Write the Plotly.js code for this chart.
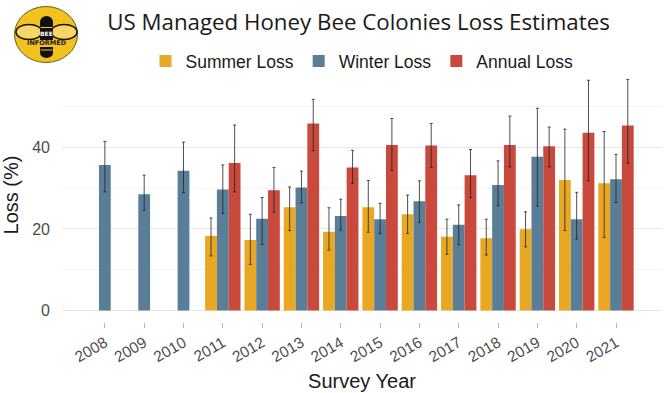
<!DOCTYPE html>
<html>
<head>
<meta charset="utf-8">
<script src="https://cdn.plot.ly/plotly-3.0.1.min.js"></script>
<style>html,body{margin:0;padding:0;background:#fff;}#chart{width:670px;height:393px;}</style>
</head>
<body>
<div id="chart"></div>
<script>
// ---- data ----
const years = ["2008","2009","2010","2011","2012","2013","2014","2015","2016","2017","2018","2019","2020","2021"];

const summerLoss = [null, null, null, 18.3, 17.3, 25.3, 19.3, 25.3, 23.6, 18.1, 17.7, 19.9, 32.0, 31.2];
const summerHi   = [null, null, null, 22.7, 23.6, 30.3, 25.2, 31.9, 28.3, 22.4, 22.4, 24.2, 44.5, 43.9];
const summerLo   = [null, null, null, 13.4, 11.3, 19.6, 14.8, 19.2, 18.9, 13.8, 13.6, 15.6, 19.6, 17.9];

const winterLoss = [35.7, 28.5, 34.3, 29.7, 22.5, 30.2, 23.2, 22.4, 26.8, 21.0, 30.8, 37.7, 22.4, 32.2];
const winterHi   = [41.5, 33.2, 41.3, 35.7, 27.7, 34.2, 27.3, 26.3, 31.8, 25.9, 36.7, 49.6, 29.0, 38.3];
const winterLo   = [29.1, 24.6, 28.9, 23.8, 16.2, 26.4, 19.7, 18.8, 21.6, 16.1, 25.7, 25.6, 17.5, 26.5];

const annualLoss = [null, null, null, 36.2, 29.5, 45.9, 35.1, 40.6, 40.5, 33.2, 40.6, 40.3, 43.6, 45.4];
const annualHi   = [null, null, null, 45.5, 35.1, 51.8, 39.3, 47.1, 45.9, 39.5, 47.7, 45.0, 56.5, 56.7];
const annualLo   = [null, null, null, 29.1, 24.1, 39.2, 31.2, 34.4, 35.1, 27.7, 35.2, 35.2, 31.8, 36.1];

const seriesNames = ["Summer Loss", "Winter Loss", "Annual Loss"];
const yTickVals = [0, 20, 40];

// ---- styling ----
const colors = ["#E9A824", "#5A7E98", "#C94A3C"];
const errColor = "rgba(35,35,35,0.8)";

function upper(v, hi) { return v.map((x, i) => x == null ? null : hi[i] - x); }
function lower(v, lo) { return v.map((x, i) => x == null ? null : x - lo[i]); }

const series = [[summerLoss, summerHi, summerLo], [winterLoss, winterHi, winterLo], [annualLoss, annualHi, annualLo]];
const traces = series.map((s, k) => ({
  type: "bar",
  name: seriesNames[k],
  x: years,
  y: s[0],
  marker: { color: colors[k], line: { width: 0 } },
  error_y: {
    type: "data", symmetric: false,
    array: upper(s[0], s[1]), arrayminus: lower(s[0], s[2]),
    color: errColor, thickness: 1, width: 1.5
  },
  hoverinfo: "x+y+name"
}));

// pixel -> paper coordinates helpers (plot area: left 62, right 662, top 68, bottom 322)
const L = 62, R = 8, T = 68, B = 71, W = 670, H = 393;
const PW = W - L - R, PH = H - T - B;
const px = v => (v - L) / PW;
const py = v => (H - B - v) / PH;

function ell(cx, cy, rx, ry, fill, line, lw) {
  return { type: "circle", xref: "paper", yref: "paper", layer: "above",
    x0: px(cx - rx), x1: px(cx + rx), y0: py(cy + ry), y1: py(cy - ry),
    fillcolor: fill, line: { color: line, width: lw } };
}
function rect(x0, y0, x1, y1, fill) {
  return { type: "rect", xref: "paper", yref: "paper", layer: "above",
    x0: px(x0), x1: px(x1), y0: py(y1), y1: py(y0),
    fillcolor: fill, line: { width: 0 } };
}
function seg(x0, y0, x1, y1, c, w) {
  return { type: "line", xref: "paper", yref: "paper", layer: "above",
    x0: px(x0), x1: px(x1), y0: py(y0), y1: py(y1), line: { color: c, width: w } };
}

const shapes = [
  ell(46, 34.5, 31.5, 28, "#F4C21F", "#6b5a1a", 1),
  ell(29, 32, 13, 7.5, "#F7D667", "#111", 1.5),
  ell(64, 32, 13, 7.5, "#F7D667", "#111", 1.5),
  ell(46.5, 22, 6.5, 6, "#111", "#111", 0),
  rect(40, 22, 53, 53, "#111"),
  ell(46.5, 53, 6.5, 5, "#111", "#111", 0),
  seg(40.5, 27.5, 52.5, 27.5, "#F4C21F", 1),
  rect(39, 40, 54, 47, "#F4C21F"),
  seg(40.5, 50, 52.5, 50, "#F4C21F", 1)
];

const annotations = [
  { text: "BEE", xref: "paper", yref: "paper", x: px(46.5), y: py(33), xanchor: "center", yanchor: "middle",
    showarrow: false, font: { family: "DejaVu Sans", size: 6, color: "#ffffff", weight: "bold" } },
  { text: "INFORMED", xref: "paper", yref: "paper", x: px(46.5), y: py(43.5), xanchor: "center", yanchor: "middle",
    showarrow: false, font: { family: "DejaVu Sans", size: 6.5, color: "#222", weight: "bold" } }
];

const layout = {
  width: W, height: H,
  margin: { l: L, r: R, t: T, b: B, pad: 0 },
  paper_bgcolor: "#ffffff", plot_bgcolor: "#ffffff",
  font: { family: "Liberation Sans, Arial, sans-serif", color: "#1a1a1a" },
  title: {
    text: "US Managed Honey Bee Colonies Loss Estimates",
    font: { family: "Open Sans, sans-serif", size: 22.3, color: "#1a1a1a" },
    x: 358.5 / W, xanchor: "center", xref: "container",
    y: 1 - 22 / H, yanchor: "middle", yref: "container"
  },
  barmode: "group", bargap: 0.1, bargroupgap: 0,
  showlegend: true,
  legend: {
    orientation: "h", x: 0.5, xanchor: "center", y: py(61), yanchor: "middle",
    font: { size: 17.5, color: "#1a1a1a" }, bgcolor: "rgba(0,0,0,0)",
    itemclick: false, traceorder: "normal"
  },
  xaxis: {
    type: "category", categoryorder: "array", categoryarray: years,
    range: [-1.09, 14.17], fixedrange: true,
    tickangle: -30, tickfont: { size: 15.5, color: "#4d4d4d" },
    ticks: "outside", ticklen: 5, tickcolor: "#b5b5b5", tickwidth: 1,
    showgrid: false, showline: false, zeroline: false,
    title: { text: "Survey Year", font: { size: 20, color: "#1a1a1a" }, standoff: 9 },
    automargin: false
  },
  yaxis: {
    range: [-2.84, 59.5], fixedrange: true,
    tickmode: "array", tickvals: yTickVals, ticktext: yTickVals.map(String),
    tickfont: { size: 16, color: "#4d4d4d" }, ticks: "", ticklabelstandoff: 11,
    showgrid: true, gridcolor: "#e8e8e8", gridwidth: 1,
    minor: { tickmode: "array", tickvals: [10, 30, 50], showgrid: true, gridcolor: "#f3f3f3", gridwidth: 1 },
    zeroline: false, showline: false,
    title: { text: "Loss (%)", font: { size: 20, color: "#1a1a1a" }, standoff: 8 },
    automargin: false
  },
  shapes: shapes,
  annotations: annotations
};

Plotly.newPlot("chart", traces, layout, { displayModeBar: false, staticPlot: true });
</script>
</body>
</html>
